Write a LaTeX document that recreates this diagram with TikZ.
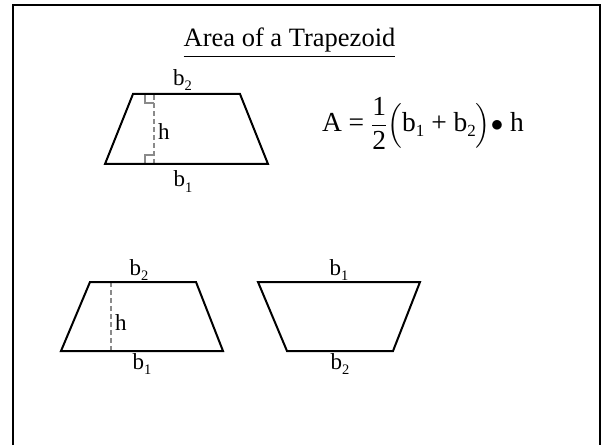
\documentclass[tikz,border=0pt]{standalone}
\usepackage{amsmath}
\usepackage{fontspec}
\setmainfont{Liberation Serif}
\definecolor{tzblack}{HTML}{000000}
\definecolor{tzgray}{HTML}{8A8A8A}
\newcommand\lowsub[2][14.5]{\raisebox{-5pt}{\fontsize{#1}{#1}\selectfont #2}}

\begin{document}
\begin{tikzpicture}[x=1pt, y=1pt, line width=2pt,
  edge/.style={tzblack, line width=2pt, line join=miter},
  heightline/.style={tzgray, line width=1.4pt, dash pattern=on 5pt off 3pt},
  rightmark/.style={tzgray, line width=1.4pt},
  lbl/.style={font=\fontsize{23}{27}\selectfont, inner sep=0pt, anchor=base}]
  \useasboundingbox (0,0) rectangle (602,445);
  % frame, open at the bottom
  \draw[tzblack, line width=2.5pt] (13,0) -- (13,440) -- (600,440) -- (600,0);
  % title
  \node[font=\fontsize{26.5}{31}\selectfont, inner sep=0pt, anchor=base] (title) at (289.5,398) {\underline{Area of a Trapezoid}};
  % trapezoid with right-angle marks
  \draw[rightmark] (145,351) -- (145,342) -- (154,342);
  \draw[rightmark] (145,281) -- (145,290) -- (154,290);
  \draw[heightline] (154,281) -- (154,351);
  \draw[edge] (105,281) -- node[lbl, xshift=-3.5pt, yshift=-23pt] (topbone) {b\lowsub{1}} (268,281)
    -- (240,351) -- node[lbl, xshift=-4pt, yshift=8.5pt] (topbtwo) {b\lowsub{2}} (133,351) -- cycle;
  \node[lbl, anchor=base west] (toph) at (157,305) {h};
  % area formula
  \node[font=\fontsize{27.5}{32}\selectfont, inner sep=0pt, anchor=base west] (area) at (321,313)
    {A = $\dfrac{\text{1}}{\text{2}}\Bigl($b\lowsub[17]{1} + b\lowsub[17]{2}$\Bigr)\bullet$ h};
  % second trapezoid
  \draw[heightline] (111,94) -- (111,163);
  \draw[edge] (61,94) -- node[lbl, yshift=-18pt] (lowbone) {b\lowsub{1}} (223,94)
    -- (196,163) -- node[lbl, xshift=-4pt, yshift=6.5pt] (lowbtwo) {b\lowsub{2}} (90,163) -- cycle;
  \node[lbl, anchor=base west] (lowh) at (114,115) {h};
  % flipped trapezoid
  \draw[edge] (258,163) -- node[lbl, yshift=6.5pt] (flipbone) {b\lowsub{1}} (420,163)
    -- (393,94) -- node[lbl, yshift=-18pt] (flipbtwo) {b\lowsub{2}} (287,94) -- cycle;
\end{tikzpicture}
\end{document}
